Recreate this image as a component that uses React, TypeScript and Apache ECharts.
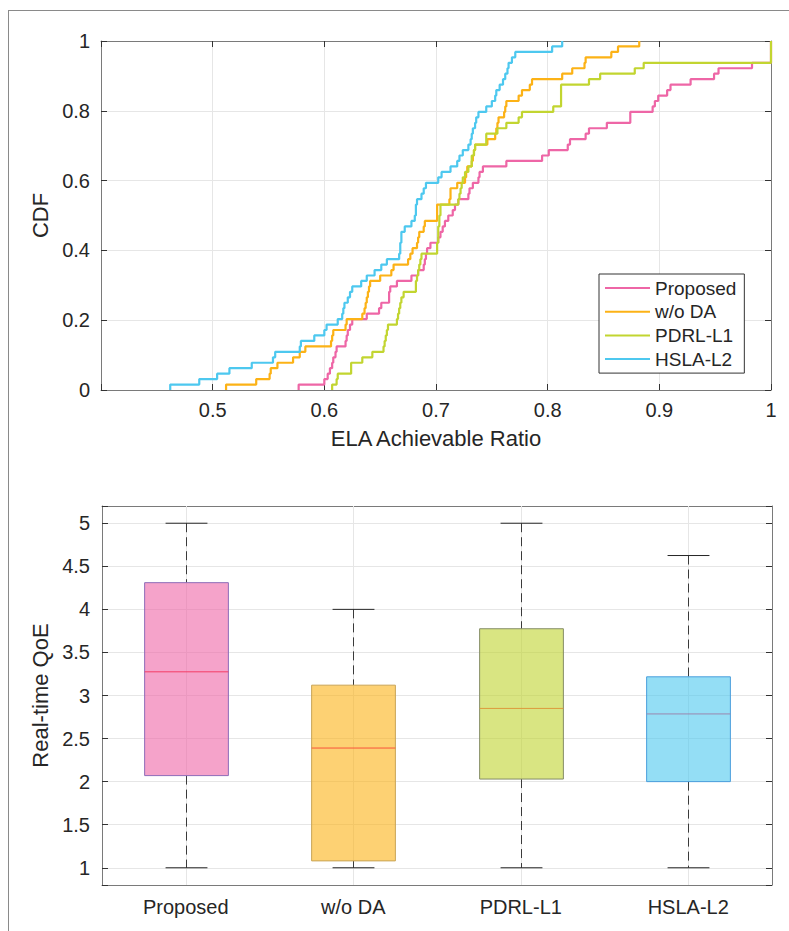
import React, { useEffect, useRef } from 'react';
import * as echarts from 'echarts';

// ---------- CDF chart data (sorted sample values read from the step positions) ----------
const seriesNames = ['Proposed', 'w/o DA', 'PDRL-L1', 'HSLA-L2'];

const proposedSamples = [
  0.577, 0.600, 0.603, 0.605, 0.607, 0.608, 0.610, 0.611, 0.619, 0.620, 0.621, 0.623, 0.625, 0.638, 0.649, 0.651,
  0.658, 0.658, 0.659, 0.665, 0.678, 0.684, 0.689, 0.690, 0.691, 0.692, 0.695, 0.702, 0.704, 0.706, 0.708, 0.711,
  0.715, 0.717, 0.720, 0.729, 0.730, 0.733, 0.738, 0.739, 0.742, 0.763, 0.795, 0.801, 0.818, 0.820, 0.834, 0.837,
  0.853, 0.874, 0.874, 0.894, 0.896, 0.899, 0.907, 0.910, 0.928, 0.949, 0.953, 0.983, 1.0, 1.0, 1.0, 1.0,
];
const woDaSamples = [
  0.512, 0.539, 0.551, 0.552, 0.558, 0.572, 0.578, 0.583, 0.606, 0.607, 0.608, 0.619, 0.620, 0.634, 0.636, 0.637,
  0.638, 0.639, 0.640, 0.641, 0.650, 0.660, 0.662, 0.675, 0.677, 0.679, 0.683, 0.684, 0.685, 0.689, 0.690, 0.701,
  0.701, 0.701, 0.712, 0.713, 0.713, 0.719, 0.726, 0.727, 0.728, 0.732, 0.733, 0.734, 0.735, 0.746, 0.753, 0.754,
  0.755, 0.756, 0.761, 0.762, 0.763, 0.774, 0.777, 0.784, 0.786, 0.813, 0.822, 0.833, 0.834, 0.857, 0.863, 0.882,
];
const pdrlSamples = [
  0.607, 0.611, 0.612, 0.624, 0.624, 0.634, 0.643, 0.653, 0.654, 0.655, 0.656, 0.657, 0.665, 0.666, 0.667, 0.668,
  0.669, 0.671, 0.682, 0.682, 0.683, 0.684, 0.685, 0.686, 0.687, 0.701, 0.701, 0.702, 0.702, 0.702, 0.703, 0.703,
  0.704, 0.704, 0.720, 0.721, 0.722, 0.723, 0.724, 0.726, 0.729, 0.732, 0.732, 0.734, 0.735, 0.745, 0.745, 0.755,
  0.763, 0.774, 0.777, 0.805, 0.812, 0.812, 0.812, 0.812, 0.837, 0.847, 0.878, 0.886, 1.0, 1.0, 1.0, 1.0,
];
const hslaSamples = [
  0.462, 0.488, 0.504, 0.515, 0.535, 0.554, 0.556, 0.578, 0.579, 0.591, 0.600, 0.602, 0.612, 0.616, 0.617, 0.618,
  0.621, 0.623, 0.625, 0.633, 0.638, 0.645, 0.651, 0.656, 0.667, 0.668, 0.668, 0.669, 0.669, 0.672, 0.678, 0.681,
  0.682, 0.682, 0.683, 0.687, 0.689, 0.691, 0.702, 0.705, 0.713, 0.719, 0.721, 0.724, 0.729, 0.731, 0.732, 0.733,
  0.735, 0.736, 0.738, 0.745, 0.750, 0.753, 0.754, 0.757, 0.760, 0.762, 0.764, 0.765, 0.768, 0.771, 0.804, 0.813,
];

// ---------- Box plot data ----------
const categories = ['Proposed', 'w/o DA', 'PDRL-L1', 'HSLA-L2'];
const whiskerLow = [1, 1, 1, 1];
const quartile1 = [2.07, 1.08, 2.03, 2.0];
const medians = [3.275, 2.39, 2.85, 2.786];
const quartile3 = [4.31, 3.12, 3.775, 3.217];
const whiskerHigh = [5, 4, 5, 4.625];

// ---------- styles ----------
const lineColors = ['#ee66a6', '#fcb216', '#c2d530', '#4dc8ef'];
const boxStyles = [
  { fill: 'rgba(238,102,166,0.6)', border: '#8e6cb8', median: '#f43d66' },
  { fill: 'rgba(252,178,22,0.6)', border: '#c9a456', median: '#f8553a' },
  { fill: 'rgba(192,212,47,0.6)', border: '#848c66', median: '#dc9a3c' },
  { fill: 'rgba(77,200,239,0.6)', border: '#4a9edc', median: '#9a86ae' },
];
const textColor = '#262626';
const axisColor = '#7a7a7a';
const gridColor = '#e6e6e6';
const fontFamily = '"Liberation Sans", Arial, Helvetica, sans-serif';

function ecdfPoints(samples: number[]): number[][] {
  const n = samples.length;
  const pts: number[][] = [[samples[0], 0]];
  samples.forEach((s, i) => pts.push([s, (i + 1) / n]));
  return pts;
}

const allSamples = [proposedSamples, woDaSamples, pdrlSamples, hslaSamples];

export default function App() {
  const ref = useRef<HTMLDivElement>(null);

  useEffect(() => {
    if (!ref.current) return;
    const chart = echarts.init(ref.current, null, { renderer: 'svg' });

    const mirrorAxis = (extra: any) => ({
      axisLine: { show: true, onZero: false, lineStyle: { color: axisColor, width: 1 } },
      axisTick: { show: true, inside: true, length: 6, lineStyle: { color: '#333333', width: 1 } },
      axisLabel: { show: false },
      splitLine: { show: false },
      ...extra,
    });

    const option: any = {
      animation: false,
      textStyle: { fontFamily },
      grid: [
        { left: 101, top: 41, width: 670, height: 349 },
        { left: 102, top: 506, width: 670, height: 379 },
      ],
      legend: {
        data: seriesNames,
        orient: 'vertical',
        left: 599,
        top: 274,
        icon: 'rect',
        itemWidth: 45,
        itemHeight: 2,
        itemGap: 3.7,
        padding: [4, 8, 4, 6],
        borderColor: '#333333',
        borderWidth: 1,
        backgroundColor: '#ffffff',
        textStyle: { color: textColor, fontSize: 19, lineHeight: 20, fontFamily },
      },
      xAxis: [
        {
          type: 'value', gridIndex: 0, min: 0.4, max: 1, interval: 0.1, position: 'bottom',
          axisLine: { show: true, onZero: false, lineStyle: { color: axisColor, width: 1 } },
          axisTick: { show: true, inside: true, length: 6, lineStyle: { color: '#333333', width: 1 } },
          axisLabel: {
            color: textColor, fontSize: 20, margin: 10, fontFamily,
            formatter: (v: number) => (Math.abs(v - 0.4) < 1e-9 ? '' : String(+v.toFixed(1))),
          },
          splitLine: { show: true, lineStyle: { color: gridColor, width: 1 } },
          name: 'ELA Achievable Ratio', nameLocation: 'middle', nameGap: 37,
          nameTextStyle: { color: textColor, fontSize: 22, fontFamily },
        },
        mirrorAxis({ type: 'value', gridIndex: 0, min: 0.4, max: 1, interval: 0.1, position: 'top' }),
        {
          type: 'category', gridIndex: 1, data: categories, position: 'bottom',
          axisLine: { show: true, onZero: false, lineStyle: { color: axisColor, width: 1 } },
          axisTick: { show: true, inside: true, alignWithLabel: true, length: 6, lineStyle: { color: '#333333', width: 1 } },
          axisLabel: { color: textColor, fontSize: 20, margin: 12, fontFamily },
          splitLine: { show: false },
        },
        mirrorAxis({
          type: 'category', gridIndex: 1, data: categories, position: 'top',
          axisTick: { show: true, inside: true, alignWithLabel: true, length: 6, lineStyle: { color: '#333333', width: 1 } },
        }),
      ],
      yAxis: [
        {
          type: 'value', gridIndex: 0, min: 0, max: 1, interval: 0.2, position: 'left',
          axisLine: { show: true, onZero: false, lineStyle: { color: axisColor, width: 1 } },
          axisTick: { show: true, inside: true, length: 6, lineStyle: { color: '#333333', width: 1 } },
          axisLabel: { color: textColor, fontSize: 20, margin: 11, fontFamily },
          splitLine: { show: true, lineStyle: { color: gridColor, width: 1 } },
          name: 'CDF', nameLocation: 'middle', nameGap: 42,
          nameTextStyle: { color: textColor, fontSize: 22, fontFamily },
        },
        mirrorAxis({ type: 'value', gridIndex: 0, min: 0, max: 1, interval: 0.2, position: 'right' }),
        {
          type: 'value', gridIndex: 1, min: 0.8, max: 5.2, splitNumber: 9, position: 'left',
          axisLine: { show: true, onZero: false, lineStyle: { color: axisColor, width: 1 } },
          axisTick: { show: true, inside: true, length: 6, lineStyle: { color: '#333333', width: 1 } },
          axisLabel: {
            color: textColor, fontSize: 20, margin: 12, fontFamily,
            formatter: (v: number) => (Math.abs(v * 2 - Math.round(v * 2)) < 1e-6 ? String(v) : ''),
          },
          splitLine: { show: true, lineStyle: { color: gridColor, width: 1 } },
          name: 'Real-time QoE', nameLocation: 'middle', nameGap: 44,
          nameTextStyle: { color: textColor, fontSize: 22, fontFamily },
        },
        mirrorAxis({ type: 'value', gridIndex: 1, min: 0.8, max: 5.2, splitNumber: 9, position: 'right' }),
      ],
      series: [
        ...seriesNames.map((name, i) => ({
          name,
          type: 'line',
          xAxisIndex: 0,
          yAxisIndex: 0,
          step: 'end',
          symbol: 'none',
          showSymbol: false,
          color: lineColors[i],
          lineStyle: { color: lineColors[i], width: 2.2 },
          data: ecdfPoints(allSamples[i]),
          z: 2 + i,
        })),
        {
          type: 'custom',
          name: 'box',
          xAxisIndex: 2,
          yAxisIndex: 2,
          encode: { x: 0, y: [1, 2, 3, 4, 5] },
          data: categories.map((_, i) => [i, whiskerLow[i], quartile1[i], medians[i], quartile3[i], whiskerHigh[i]]),
          renderItem: (params: any, api: any) => {
            const idx = api.value(0);
            const cs = params.coordSys;
            const band = api.size([1, 0])[0];
            const cx = Math.round(api.coord([idx, 1])[0]) + 0.5;
            const Y = (v: number) => api.coord([idx, v])[1];
            const st = boxStyles[params.dataIndex];
            const yMin = Y(api.value(1));
            const yQ1 = Y(api.value(2));
            const yMed = Y(api.value(3));
            const yQ3 = Y(api.value(4));
            const yMax = Y(api.value(5));
            const hb = band * 0.25;
            const hc = band * 0.125;
            const dash = { stroke: '#3a3a3a', lineWidth: 1, lineDash: [9, 5] };
            const cap = { stroke: '#262626', lineWidth: 1 };
            return {
              type: 'group',
              children: [
                { type: 'line', shape: { x1: cx, y1: cs.y, x2: cx, y2: cs.y + cs.height }, style: { stroke: gridColor, lineWidth: 1 } },
                { type: 'line', shape: { x1: cx, y1: yMax, x2: cx, y2: yQ3 }, style: dash },
                { type: 'line', shape: { x1: cx, y1: yQ1, x2: cx, y2: yMin }, style: dash },
                { type: 'line', shape: { x1: cx - hc, y1: yMax, x2: cx + hc, y2: yMax }, style: cap },
                { type: 'line', shape: { x1: cx - hc, y1: yMin, x2: cx + hc, y2: yMin }, style: cap },
                {
                  type: 'rect',
                  shape: { x: cx - hb, y: yQ3, width: hb * 2, height: yQ1 - yQ3 },
                  style: { fill: st.fill, stroke: st.border, lineWidth: 1 },
                },
                { type: 'line', shape: { x1: cx - hb, y1: yMed, x2: cx + hb, y2: yMed }, style: { stroke: st.median, lineWidth: 1 } },
              ],
            };
          },
        },
      ],
      graphic: [
        { type: 'line', shape: { x1: 8, y1: 10.5, x2: 789, y2: 10.5 }, style: { stroke: '#8a8a8a', lineWidth: 1 } },
        { type: 'line', shape: { x1: 8.5, y1: 10, x2: 8.5, y2: 931 }, style: { stroke: '#8a8a8a', lineWidth: 1 } },
      ],
    };

    chart.setOption(option);
    return () => chart.dispose();
  }, []);

  return (
    <div
      ref={ref}
      style={{ position: 'fixed', left: 0, top: 0, width: 789, height: 931, background: '#ffffff' }}
    />
  );
}
